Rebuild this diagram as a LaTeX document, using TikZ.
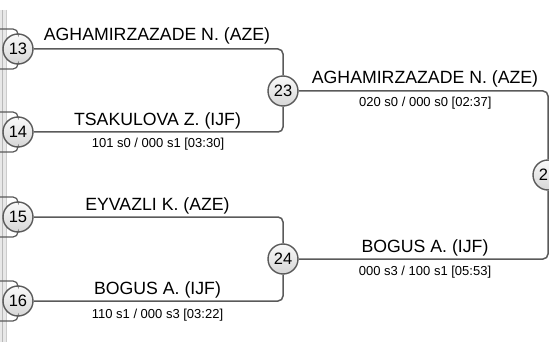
\documentclass[tikz,border=0pt]{standalone}
\usepackage{fontspec}
\setmainfont{Liberation Sans}
\definecolor{lncol}{HTML}{5A5A5A}
\begin{document}
\begin{tikzpicture}[x=1pt,y=-1pt,
  conn/.style={draw=lncol,line width=1.5pt,rounded corners=5pt},
  stub/.style={draw=lncol,line width=1.2pt,rounded corners=5pt},
  rnd/.style={circle,draw=lncol,line width=1.4pt,minimum size=30pt,inner sep=0pt,
    top color=gray!4,bottom color=gray!32,font=\fontsize{16.5}{18}\selectfont},
  pname/.style={anchor=base,inner sep=0pt,font=\fontsize{17.7}{20}\selectfont},
  score/.style={anchor=base,inner sep=0pt,font=\fontsize{13}{15}\selectfont}]
\useasboundingbox (0,0) rectangle (549,342);
\clip (0,0) rectangle (549,342);
% left strip
\fill[gray!18] (0,10) rectangle (6,342);
\draw[gray!55,line width=1pt] (2.5,10) -- (2.5,342);
\draw[gray!40,line width=0.6pt] (6,10) -- (6,342);
% circles
\node[rnd] (c13) at (18,49) {13};
\node[rnd] (c14) at (18,132) {14};
\node[rnd] (c15) at (18,217) {15};
\node[rnd] (c16) at (18,301) {16};
\node[rnd] (c23) at (283,91) {23};
\node[rnd] (c24) at (283,259) {24};
\node[rnd] (c25) at (548,175) {2\phantom{5}};
% left stubs
\coordinate (a13) at (0,29); \coordinate (b13) at (0,69);
\coordinate (a14) at (0,112); \coordinate (b14) at (0,152);
\coordinate (a15) at (0,197); \coordinate (b15) at (0,237);
\coordinate (a16) at (0,281); \coordinate (b16) at (0,321);
\foreach \n in {13,14,15,16}{
  \draw[stub] (a\n) -| (c\n.north);
  \draw[stub] (b\n) -| (c\n.south);
}
% connectors
\draw[conn] (c13.east) -| (c23.north);
\draw[conn] (c14.east) -| (c23.south);
\draw[conn] (c15.east) -| (c24.north);
\draw[conn] (c16.east) -| (c24.south);
\draw[conn] (c23.east) -| (c25.north);
\draw[conn] (c24.east) -| (c25.south);
% labels
\node[pname] (n1) at (157,41) {AGHAMIRZAZADE N. (AZE)};
\node[pname] (n2) at (157.5,125.5) {TSAKULOVA Z. (IJF)};
\node[score] (s1) at (158,148) {101 s0 / 000 s1 [03:30]};
\node[pname] (n3) at (157.5,210) {EYVAZLI K. (AZE)};
\node[pname] (n4) at (157.5,294.5) {BOGUS A. (IJF)};
\node[score] (s2) at (157.5,318) {110 s1 / 000 s3 [03:22]};
\node[pname] (n5) at (425,83.5) {AGHAMIRZAZADE N. (AZE)};
\node[score] (s3) at (425.3,107) {020 s0 / 000 s0 [02:37]};
\node[pname] (n6) at (425,252) {BOGUS A. (IJF)};
\node[score] (s4) at (425,275) {000 s3 / 100 s1 [05:53]};
\end{tikzpicture}
\end{document}
